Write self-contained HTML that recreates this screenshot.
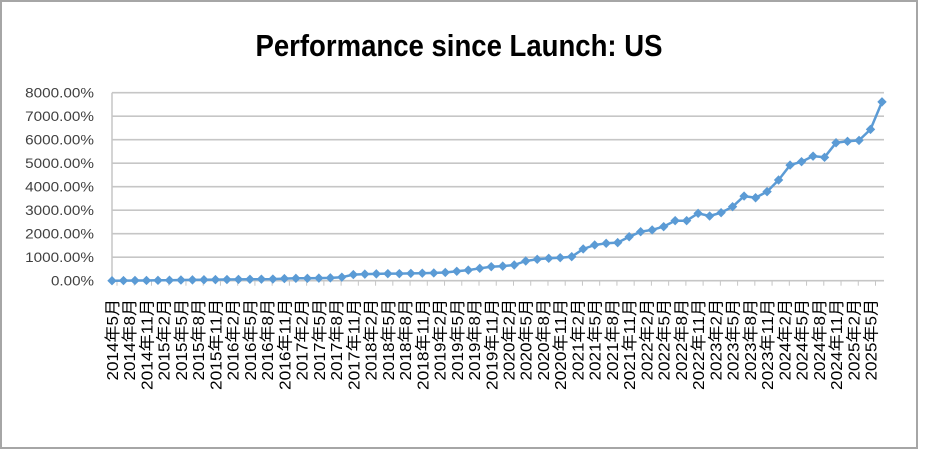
<!DOCTYPE html>
<html><head><meta charset="utf-8"><style>
html,body{margin:0;padding:0;background:#fff;}
svg{display:block;}
text{font-family:"Liberation Sans","Noto Sans CJK SC",sans-serif;}
</style></head><body>
<svg id="chart" width="926" height="453" viewBox="0 0 926 453" xmlns="http://www.w3.org/2000/svg">
<rect x="1" y="1" width="916" height="447" fill="#fff" stroke="#a6a6a6" stroke-width="2"/>
<text x="459" y="56" text-anchor="middle" font-size="31" font-weight="bold" textLength="407" lengthAdjust="spacingAndGlyphs" fill="#000">Performance since Launch: US</text>
<g id="grid"></g><g id="yticks"></g><g id="xticks"></g><g id="series"></g>
</svg>
<script>
const yTickValues = [0,1000,2000,3000,4000,5000,6000,7000,8000];
const yTickLabels = ["0.00%","1000.00%","2000.00%","3000.00%","4000.00%","5000.00%","6000.00%","7000.00%","8000.00%"];
const xLabels = [];
for (let y = 2014; y <= 2025; y++) for (const m of [2,5,8,11]) {
  if ((y === 2014 && m < 5) || (y === 2025 && m > 5)) continue;
  xLabels.push(y + "年" + m + "月");
}
const values = [0,5,10,10,15,20,30,35,40,45,50,55,60,65,70,90,100,100,110,120,150,260,280,290,300,300,310,320,330,350,400,450,
527,597,621,668,838,910,952,980,1023,1350,1520,1590,1620,1870,2085,2160,2300,2555,2555,2866,2752,2895,3150,3600,3530,3790,4285,4920,5065,5300,5250,
5870,5930,5970,6440,7610];

const NS = "http://www.w3.org/2000/svg";
const X0 = 112, X1 = 882, Y0 = 280.7, Y1 = 92.7, YMAX = 8000;
const nPts = values.length;
const xPt = i => X0 + i * (X1 - X0) / (nPts - 1);
const xLab = k => xPt(k * 1.5);
const yV = v => Y0 - v / YMAX * (Y0 - Y1);
function mk(tag, attrs, parent) { const e = document.createElementNS(NS, tag); for (const k in attrs) e.setAttribute(k, attrs[k]); parent.appendChild(e); return e; }

const grid = document.getElementById("grid"), yt = document.getElementById("yticks"), xt = document.getElementById("xticks"), ser = document.getElementById("series");
yTickValues.forEach((v, i) => {
  const l = mk("line", {x1: X0, x2: X1 + 2, y1: yV(v), y2: yV(v), stroke: "#c6c6c6", "stroke-width": 1.6}, grid);
  
  
  const lab = yTickLabels[i];
  const t = mk("text", {x: 94, y: yV(v) + 5, "text-anchor": "end", "font-size": 14, fill: "#404040", textLength: (lab.length * 8.6).toFixed(1), lengthAdjust: "spacingAndGlyphs"}, yt);
  t.textContent = lab;
  
  
});
const ax = mk("line", {x1: X0, x2: X0, y1: Y1, y2: Y0, stroke: "#c6c6c6", "stroke-width": 1.5}, grid);


xLabels.forEach((lab, k) => {
  const x = xLab(k);
  const tk = mk("line", {x1: x + 5, x2: x + 5, y1: Y0, y2: Y0 + 5, stroke: "#c6c6c6", "stroke-width": 1}, xt);
  
  
  const digits = lab.length - 2;
  const t = mk("text", {transform: "translate(" + (x + 6) + ",299) rotate(-90)", "text-anchor": "end", "font-size": 16, fill: "#000", textLength: (digits * 9.5 + 2 * 17).toFixed(1), lengthAdjust: "spacingAndGlyphs"}, xt);
  t.textContent = lab;
  
  
});
const pts = values.map((v, i) => xPt(i).toFixed(1) + "," + yV(v).toFixed(1)).join(" ");
const pl = mk("polyline", {points: pts, fill: "none", stroke: "#5b9bd5", "stroke-width": 2.5, "stroke-linejoin": "round"}, ser);


values.forEach((v, i) => {
  const x = xPt(i), y = yV(v), s = 4;
  const m = mk("polygon", {points: `${x},${y - s} ${x + s},${y} ${x},${y + s} ${x - s},${y}`, fill: "#5b9bd5", stroke: "#5b9bd5", "stroke-width": 1}, ser);
  
  
});
</script>
</body></html>
